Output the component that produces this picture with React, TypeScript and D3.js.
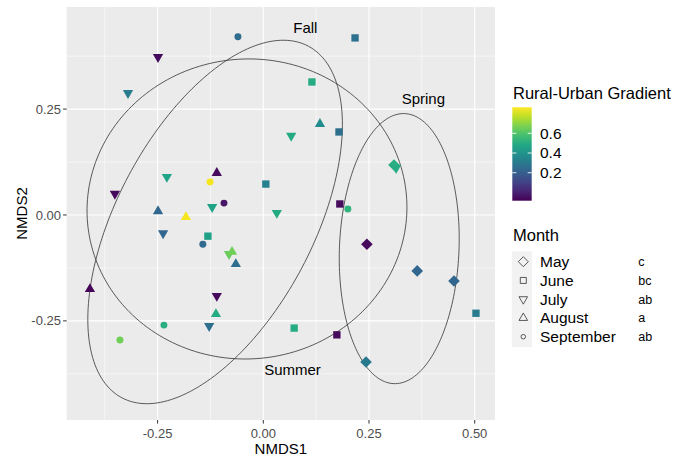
import React from 'react';
import * as d3 from 'd3';

// ---------- data ----------
const months = ['May', 'June', 'July', 'August', 'September'];
const monthLetters = ['c', 'bc', 'ab', 'a', 'ab'];

const pointMonth = [
  'September', 'July', 'July', 'June', 'June', 'August', 'July', 'June', 'May', 'July',
  'July', 'September', 'August', 'June', 'July', 'July', 'September', 'July', 'August', 'August',
  'June', 'September', 'July', 'June', 'September', 'July', 'August', 'August', 'May', 'May',
  'May', 'August', 'July', 'August', 'September', 'July', 'September', 'June', 'June', 'June',
  'May',
];
const nmds1 = [
  -0.060, -0.249, -0.320, 0.217, 0.115, 0.134, 0.066, 0.179, 0.309, 0.314,
  -0.228, -0.126, -0.110, 0.006, -0.351, -0.121, -0.093, 0.032, -0.249, -0.183,
  0.181, 0.200, -0.237, -0.131, -0.143, -0.081, -0.074, -0.065, 0.245, 0.364,
  0.451, -0.410, -0.110, -0.112, -0.235, -0.128, -0.339, 0.503, 0.073, 0.174,
  0.243,
];
const nmds2 = [
  0.421, 0.373, 0.288, 0.418, 0.314, 0.215, 0.187, 0.196, 0.118, 0.111,
  0.090, 0.078, 0.099, 0.073, 0.050, 0.019, 0.028, 0.005, 0.009, -0.005,
  0.026, 0.014, -0.043, -0.050, -0.069, -0.092, -0.087, -0.116, -0.069, -0.132,
  -0.156, -0.175, -0.191, -0.234, -0.260, -0.262, -0.295, -0.232, -0.267, -0.283,
  -0.347,
];
const gradient = [
  0.25, -0.06, 0.31, 0.27, 0.50, 0.37, 0.49, 0.26, 0.51, 0.50,
  0.47, 0.85, -0.06, 0.33, -0.06, 0.47, -0.03, 0.49, 0.23, 0.85,
  -0.06, 0.53, 0.23, 0.46, 0.24, 0.64, 0.66, 0.26, -0.06, 0.23,
  0.23, -0.07, -0.06, 0.50, 0.51, 0.26, 0.66, 0.31, 0.50, -0.06,
  0.30,
];

const seasons = ['Fall', 'Summer', 'Spring'];
const ellipseCx = [-0.114, -0.0386, 0.3215];
const ellipseCy = [-0.0165, 0.0142, -0.0794];
const ellipseA = [0.470, 0.3785, 0.319];
const ellipseB = [0.232, 0.354, 0.1414];
const ellipseAngle = [62, 5, 87.7];
const labelX = [0.0995, 0.069, 0.3785];
const labelY = [0.443, -0.3654, 0.275];

const xTicks = [-0.25, 0, 0.25, 0.5];
const xMinor = [-0.375, -0.125, 0.125, 0.375];
const yTicks = [-0.25, 0, 0.25];
const yMinor = [-0.375, -0.125, 0.125, 0.375];
const colorTicks = [0.2, 0.4, 0.6];
const colorDomain = [-0.084, 0.864];

// ---------- layout ----------
const W = 675;
const H = 458;
const FONT = '"Liberation Sans", Arial, sans-serif';
const panel = { left: 66.7, right: 495, top: 7, bottom: 420 };

const x = d3.scaleLinear().domain([-0.465, 0.548]).range([panel.left, panel.right]);
const y = d3.scaleLinear().domain([-0.484, 0.491]).range([panel.bottom, panel.top]);
const color = d3.scaleSequential(d3.interpolateViridis).domain(colorDomain as [number, number]);

const diamondPath = (r: number) => `M0,${-r}L${r},0L0,${r}L${-r},0Z`;

function shapePath(month: string, big: boolean): { d: string; rot: number } {
  const s = big ? 1 : 0.8;
  switch (month) {
    case 'May':
      return { d: diamondPath(big ? 5.8 : 5), rot: 0 };
    case 'June':
      return { d: d3.symbol(d3.symbolSquare, big ? 54 : 36)()!, rot: 0 };
    case 'July':
      return { d: d3.symbol(d3.symbolTriangle, (big ? 46 : 32) * s / s)()!, rot: 180 };
    case 'August':
      return { d: d3.symbol(d3.symbolTriangle, big ? 46 : 32)()!, rot: 0 };
    default:
      return { d: d3.symbol(d3.symbolCircle, big ? 38 : 16)()!, rot: 0 };
  }
}

function ellipsePath(i: number) {
  const phi = (ellipseAngle[i] * Math.PI) / 180;
  const pts: [number, number][] = d3.range(0, 200).map((k) => {
    const t = (2 * Math.PI * k) / 200;
    const ex = ellipseA[i] * Math.cos(t);
    const ey = ellipseB[i] * Math.sin(t);
    return [
      ellipseCx[i] + ex * Math.cos(phi) - ey * Math.sin(phi),
      ellipseCy[i] + ex * Math.sin(phi) + ey * Math.cos(phi),
    ];
  });
  return d3
    .line<[number, number]>()
    .x((d) => x(d[0]))
    .y((d) => y(d[1]))
    .curve(d3.curveLinearClosed)(pts)!;
}

const bar = { x: 512.3, w: 19.4, top: 107.3, bottom: 200.7 };
const cbY = d3.scaleLinear().domain(colorDomain).range([bar.bottom, bar.top]);

export default function App() {
  const stops = d3.range(0, 11).map((k) => k / 10);
  const keyY0 = 261.7;
  const keyStep = 18.75;
  return (
    <svg
      width={W}
      height={H}
      style={{ position: 'absolute', left: 0, top: 0, background: '#fff' }}
      fontFamily={FONT}
    >
      <defs>
        <linearGradient id="vir" x1="0" y1="1" x2="0" y2="0">
          {stops.map((s) => (
            <stop key={s} offset={s} stopColor={d3.interpolateViridis(s)} />
          ))}
        </linearGradient>
        <clipPath id="pclip">
          <rect x={panel.left} y={panel.top} width={panel.right - panel.left} height={panel.bottom - panel.top} />
        </clipPath>
      </defs>
      <rect width={W} height={H} fill="#fff" />
      {/* panel */}
      <rect
        x={panel.left}
        y={panel.top}
        width={panel.right - panel.left}
        height={panel.bottom - panel.top}
        fill="#EBEBEB"
      />
      {xMinor.map((v) => (
        <line key={'xm' + v} x1={x(v)} x2={x(v)} y1={panel.top} y2={panel.bottom} stroke="#fff" strokeWidth={0.55} />
      ))}
      {yMinor.map((v) => (
        <line key={'ym' + v} y1={y(v)} y2={y(v)} x1={panel.left} x2={panel.right} stroke="#fff" strokeWidth={0.55} />
      ))}
      {xTicks.map((v) => (
        <line key={'xg' + v} x1={x(v)} x2={x(v)} y1={panel.top} y2={panel.bottom} stroke="#fff" strokeWidth={1.1} />
      ))}
      {yTicks.map((v) => (
        <line key={'yg' + v} y1={y(v)} y2={y(v)} x1={panel.left} x2={panel.right} stroke="#fff" strokeWidth={1.1} />
      ))}
      {/* ellipses */}
      <g clipPath="url(#pclip)">
        {seasons.map((s, i) => (
          <path key={s} d={ellipsePath(i)} fill="none" stroke="#333" strokeWidth={0.8} />
        ))}
      </g>
      {/* points */}
      {nmds1.map((v, i) => {
        const sp = shapePath(pointMonth[i], true);
        return (
          <path
            key={'p' + i}
            d={sp.d}
            transform={`translate(${x(v)},${y(nmds2[i])}) rotate(${sp.rot})`}
            fill={color(gradient[i])}
          />
        );
      })}
      {/* season labels */}
      {seasons.map((s, i) => (
        <text key={'l' + s} x={x(labelX[i])} y={y(labelY[i])} dy="0.35em" textAnchor="middle" fontSize={15} fill="#000">
          {s}
        </text>
      ))}
      {/* axes */}
      {xTicks.map((v) => (
        <g key={'xt' + v}>
          <line x1={x(v)} x2={x(v)} y1={panel.bottom} y2={panel.bottom + 3.6} stroke="#333" strokeWidth={1} />
          <text x={x(v)} y={437.8} textAnchor="middle" fontSize={13} fill="#4D4D4D">
            {d3.format('.2f')(v).replace('−', '-')}
          </text>
        </g>
      ))}
      {yTicks.map((v) => (
        <g key={'yt' + v}>
          <line x1={panel.left - 3.6} x2={panel.left} y1={y(v)} y2={y(v)} stroke="#333" strokeWidth={1} />
          <text x={61} y={y(v)} dy="0.35em" textAnchor="end" fontSize={13} fill="#4D4D4D">
            {d3.format('.2f')(v).replace('−', '-')}
          </text>
        </g>
      ))}
      <text x={(panel.left + panel.right) / 2} y={453.5} textAnchor="middle" fontSize={15} fill="#000">
        NMDS1
      </text>
      <text
        transform={`translate(27,${(panel.top + panel.bottom) / 2}) rotate(-90)`}
        textAnchor="middle"
        fontSize={15}
        fill="#000"
      >
        NMDS2
      </text>
      {/* colour legend */}
      <text x={513} y={98.5} fontSize={16.5} fill="#000">
        Rural-Urban Gradient
      </text>
      <rect x={bar.x} y={bar.top} width={bar.w} height={bar.bottom - bar.top} fill="url(#vir)" />
      {colorTicks.map((v) => (
        <g key={'ct' + v}>
          <line x1={bar.x} x2={bar.x + 4} y1={cbY(v)} y2={cbY(v)} stroke="#fff" strokeWidth={0.9} />
          <line x1={bar.x + bar.w - 4} x2={bar.x + bar.w} y1={cbY(v)} y2={cbY(v)} stroke="#fff" strokeWidth={0.9} />
          <text x={540} y={cbY(v)} dy="0.35em" fontSize={15.5} fill="#000">
            {v.toFixed(1)}
          </text>
        </g>
      ))}
      {/* month legend */}
      <text x={513} y={240.7} fontSize={16.5} fill="#000">
        Month
      </text>
      <rect x={511.8} y={keyY0 - keyStep / 2 - 1} width={20.2} height={keyStep * 5 + 2} fill="#F2F2F2" />
      {months.map((m, i) => {
        const sp = shapePath(m, false);
        const cy = keyY0 + i * keyStep;
        return (
          <g key={'k' + m}>
            <path
              d={sp.d}
              transform={`translate(523.3,${cy}) rotate(${sp.rot})`}
              fill="none"
              stroke="#333"
              strokeWidth={0.8}
            />
            <text x={540} y={cy} dy="0.35em" fontSize={15.5} fill="#000">
              {m}
            </text>
            <text x={638.3} y={cy} dy="0.35em" fontSize={12.5} fill="#000">
              {monthLetters[i]}
            </text>
          </g>
        );
      })}
    </svg>
  );
}
